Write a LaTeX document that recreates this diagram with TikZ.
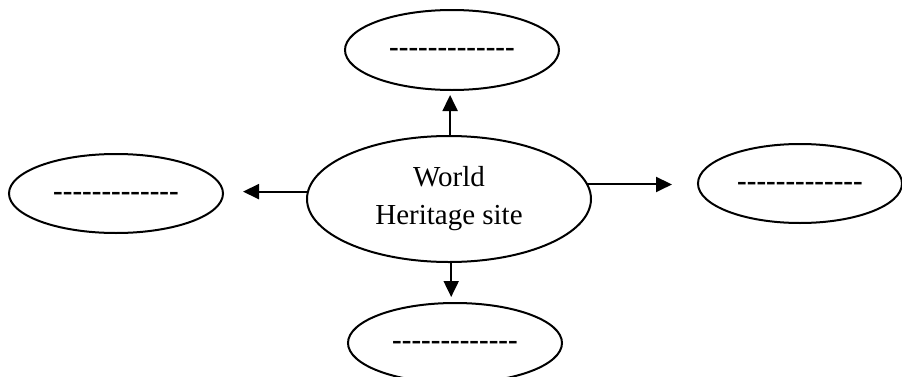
\documentclass[tikz,border=0pt]{standalone}
\usepackage{fontspec}
\setmainfont{Liberation Serif}
\usetikzlibrary{arrows.meta,shapes.geometric}
\tikzset{every node/.append style={transform shape=false}}
\tikzset{bubble/.style={ellipse,draw,line width=1pt,inner sep=0pt,outer sep=0pt,
    minimum width=107pt,minimum height=40pt,font=\fontsize{14.5}{19}\selectfont}}
\tikzset{blank/.style={bubble,text height=6.5pt,text depth=0pt,font=\fontsize{14.5}{19}\selectfont\bfseries}}
\tikzset{pointer/.style={line width=1pt,-{Triangle[length=8pt,width=7.5pt]}}}
\newcommand\blankline{-{}-{}-{}-{}-{}-{}-{}-{}-{}-{}-{}-{}-}

\begin{document}
\begin{tikzpicture}[x=0.5pt,y=-0.5pt]
\clip (0,0) rectangle (902,376);
\path[use as bounding box] (0,0) rectangle (902,376);
  \node[bubble,minimum width=142pt,minimum height=63pt,align=center] (hub) at (449,199)
        {World\\Heritage site};
  \node[blank] (top) at (452,50) {\blankline};
  \node[blank,minimum height=39.5pt] (left) at (116,193.5) {\blankline};
  \node[blank,minimum width=102pt,minimum height=39.5pt] (right) at (800,183.5) {\blankline};
  \node[blank] (bottom) at (455,343) {\blankline};
% arrow tips stop short of the outer bubbles
\coordinate (tipT) at (450,95);
\coordinate (tipL) at (243,192);
\coordinate (tipR) at (672,183);
\coordinate (tipB) at (452,297);
\draw[pointer] (hub.89.5) -- (hub.89.5 |- tipT);
\draw[pointer] (hub.177.6) -- (hub.177.6 -| tipL);
\draw[pointer] (hub.6.2) -- (hub.6.2 -| tipR);
\draw[pointer] (hub.-88.5) -- (hub.-88.5 |- tipB);
\end{tikzpicture}
\end{document}
